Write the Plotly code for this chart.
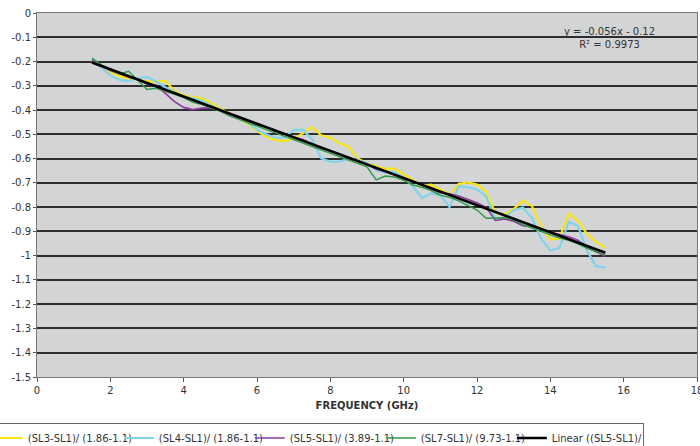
import plotly.graph_objects as go

# frequency axis (GHz), every 0.25 GHz
freq = [1.5, 1.75, 2.0, 2.25, 2.5, 2.75, 3.0, 3.25, 3.5, 3.75,
        4.0, 4.25, 4.5, 4.75, 5.0, 5.25, 5.5, 5.75, 6.0, 6.25,
        6.5, 6.75, 7.0, 7.25, 7.5, 7.75, 8.0, 8.25, 8.5, 8.75,
        9.0, 9.25, 9.5, 9.75, 10.0, 10.25, 10.5, 10.75, 11.0, 11.25,
        11.5, 11.75, 12.0, 12.25, 12.5, 12.75, 13.0, 13.25, 13.5, 13.75,
        14.0, 14.25, 14.5, 14.75, 15.0, 15.25, 15.5]

sl3 = [-0.194, -0.218, -0.242, -0.261, -0.270, -0.274, -0.283, -0.282, -0.281, -0.320,
       -0.339, -0.348, -0.352, -0.371, -0.395, -0.414, -0.433, -0.457, -0.486, -0.510,
       -0.524, -0.528, -0.517, -0.496, -0.470, -0.504, -0.513, -0.537, -0.551, -0.600,
       -0.619, -0.633, -0.642, -0.641, -0.665, -0.689, -0.713, -0.707, -0.726, -0.750,
       -0.704, -0.698, -0.707, -0.736, -0.825, -0.830, -0.808, -0.772, -0.796, -0.880,
       -0.934, -0.928, -0.827, -0.856, -0.910, -0.944, -0.968]

sl4 = [-0.189, -0.223, -0.257, -0.276, -0.280, -0.269, -0.263, -0.282, -0.306, -0.325,
       -0.344, -0.353, -0.362, -0.381, -0.400, -0.419, -0.428, -0.452, -0.481, -0.500,
       -0.514, -0.513, -0.482, -0.481, -0.520, -0.599, -0.613, -0.612, -0.601, -0.605,
       -0.619, -0.648, -0.657, -0.656, -0.680, -0.714, -0.763, -0.742, -0.751, -0.800,
       -0.714, -0.718, -0.727, -0.756, -0.850, -0.844, -0.813, -0.802, -0.846, -0.930,
       -0.979, -0.968, -0.862, -0.876, -0.980, -1.044, -1.048]

sl5 = [-0.194, -0.218, -0.237, -0.251, -0.265, -0.274, -0.293, -0.297, -0.331, -0.365,
       -0.389, -0.398, -0.392, -0.391, -0.400, -0.419, -0.433, -0.447, -0.461, -0.470,
       -0.489, -0.498, -0.512, -0.521, -0.540, -0.559, -0.568, -0.582, -0.601, -0.610,
       -0.624, -0.643, -0.652, -0.666, -0.685, -0.694, -0.708, -0.727, -0.741, -0.745,
       -0.754, -0.768, -0.782, -0.801, -0.855, -0.849, -0.858, -0.877, -0.881, -0.890,
       -0.904, -0.913, -0.922, -0.936, -0.965, -0.984, -1.003]

sl7 = [-0.186, -0.213, -0.232, -0.251, -0.240, -0.279, -0.315, -0.310, -0.321, -0.335,
       -0.349, -0.368, -0.377, -0.391, -0.405, -0.424, -0.438, -0.452, -0.466, -0.480,
       -0.494, -0.508, -0.522, -0.536, -0.550, -0.564, -0.578, -0.592, -0.606, -0.620,
       -0.634, -0.688, -0.672, -0.676, -0.690, -0.709, -0.718, -0.732, -0.751, -0.760,
       -0.774, -0.793, -0.812, -0.846, -0.845, -0.844, -0.853, -0.872, -0.886, -0.900,
       -0.914, -0.928, -0.937, -0.951, -0.970, -0.984, -0.998]

# linear trend of SL5 (end points)
fit_x = [1.5, 15.5]
fit_y = [-0.204, -0.988]

names = ["(SL3-SL1)/ (1.86-1.1)", "(SL4-SL1)/ (1.86-1.1)",
         "(SL5-SL1)/ (3.89-1.1)", "(SL7-SL1)/ (9.73-1.1)"]
colors = ["#f7e516", "#7fd3ea", "#8e3a9e", "#2f9a45"]
widths = [2.2, 2.2, 1.6, 1.4]

y_ticks = [0, -0.1, -0.2, -0.3, -0.4, -0.5, -0.6, -0.7, -0.8, -0.9,
           -1.0, -1.1, -1.2, -1.3, -1.4, -1.5]
y_labels = ["0", "-0.1", "-0.2", "-0.3", "-0.4", "-0.5", "-0.6", "-0.7", "-0.8", "-0.9",
            "-1", "-1.1", "-1.2", "-1.3", "-1.4", "-1.5"]

fig = go.Figure()
for ys, n, c, w in zip([sl3, sl4, sl5, sl7], names, colors, widths):
    fig.add_trace(go.Scatter(x=freq, y=ys, name=n, mode="lines",
                             line=dict(color=c, width=w)))
fig.add_trace(go.Scatter(x=fit_x, y=fit_y, name="Linear ((SL5-SL1)/ (3.89-1.1))",
                         mode="lines", line=dict(color="black", width=2.6)))

fig.add_annotation(x=15.6, y=-0.105, xref="x", yref="y",
                   text="y = -0.056x - 0.12<br>R² = 0.9973", showarrow=False,
                   font=dict(size=10, color="#333"), align="center")

fig.update_layout(
    width=700, height=446,
    margin=dict(l=37, r=3, t=13, b=69, autoexpand=False),
    paper_bgcolor="white",
    plot_bgcolor="#d3d4d5",
    font=dict(family="DejaVu Sans", size=10, color="#333"),
    showlegend=True,
    legend=dict(orientation="h", x=-0.076, xanchor="left", y=-0.125, yanchor="top",
                bgcolor="white", bordercolor="#666", borderwidth=1,
                font=dict(size=10, color="#333"), itemwidth=30,
                entrywidth=86, entrywidthmode="pixels"),
)
fig.update_xaxes(range=[0, 18], dtick=2, tick0=0, showgrid=False, zeroline=False,
                 showline=True, linecolor="#777", linewidth=1, mirror=True,
                 ticks="outside", ticklen=4, tickcolor="#555",
                 ticklabeloverflow="allow",
                 title=dict(text="<b>FREQUENCY (GHz)</b>", font=dict(size=10), standoff=6))
fig.update_yaxes(range=[-1.5, 0], tickvals=y_ticks, ticktext=y_labels,
                 showgrid=True, gridcolor="#2e2e2e", gridwidth=2, zeroline=False,
                 showline=True, linecolor="#777", linewidth=1, mirror=True,
                 ticks="outside", ticklen=3, tickcolor="#555")

# page body has a default margin; remove it so the figure fills the window
fig.write_html("out.html", config={"displayModeBar": False},
               post_script="document.body.style.margin='0px';")
